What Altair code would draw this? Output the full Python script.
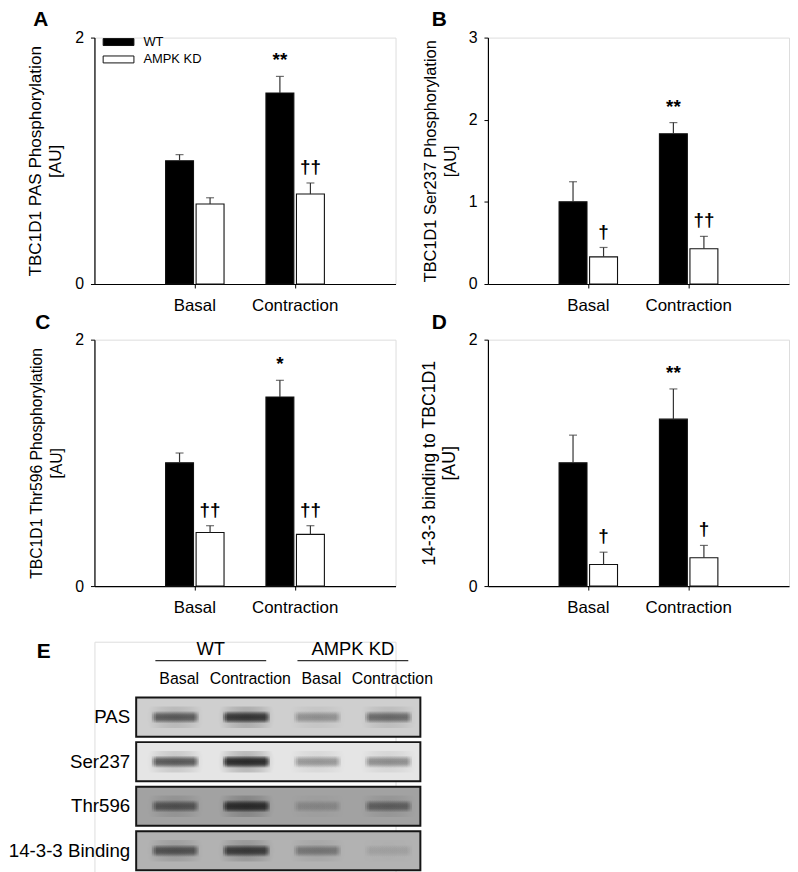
import altair as alt
import pandas as pd

FONT = "Liberation Sans"

conditions = ["Basal", "Contraction"]
genotypes = ["WT", "AMPK KD"]

# ---- Panel A: TBC1D1 PAS phosphorylation [AU]
a_wt = [1.00, 1.55]
a_wt_sem = [0.05, 0.135]
a_kd = [0.65, 0.73]
a_kd_sem = [0.05, 0.09]
a_wt_sig = ["", "**"]
a_kd_sig = ["", "††"]

# ---- Panel B: TBC1D1 Ser237 phosphorylation [AU]
b_wt = [1.00, 1.83]
b_wt_sem = [0.245, 0.135]
b_kd = [0.33, 0.43]
b_kd_sem = [0.115, 0.15]
b_wt_sig = ["", "**"]
b_kd_sig = ["†", "††"]

# ---- Panel C: TBC1D1 Thr596 phosphorylation [AU]
c_wt = [1.00, 1.535]
c_wt_sem = [0.08, 0.135]
c_kd = [0.435, 0.42]
c_kd_sem = [0.055, 0.07]
c_wt_sig = ["", "*"]
c_kd_sig = ["††", "††"]

# ---- Panel D: 14-3-3 binding to TBC1D1 [AU]
d_wt = [1.00, 1.355]
d_wt_sem = [0.225, 0.245]
d_kd = [0.175, 0.23]
d_kd_sem = [0.10, 0.10]
d_wt_sig = ["", "**"]
d_kd_sig = ["†", "†"]

# ---- Panel E: western blots
blot_rows = ["PAS", "Ser237", "Thr596", "14-3-3 Binding"]
blot_bg = ["#cfcfcf", "#e5e5e5", "#a2a2a2", "#b2b2b2"]
lane_labels = ["Basal", "Contraction", "Basal", "Contraction"]
lane_groups = ["WT", "WT", "AMPK KD", "AMPK KD"]
band_pas = [0.55, 0.85, 0.25, 0.45]
band_ser237 = [0.6, 1.0, 0.28, 0.32]
band_thr596 = [0.5, 0.9, 0.15, 0.4]
band_1433 = [0.55, 0.75, 0.3, 0.08]

PW, PH = 303, 248


def letter_layer(letter, xpx, ypx):
    return alt.Chart(pd.DataFrame({"t": [letter]})).mark_text(
        font=FONT, fontSize=21, fontWeight="bold", align="center",
        baseline="middle", color="black"
    ).encode(text="t:N", x=alt.value(xpx), y=alt.value(ypx))


def panel(wt, wt_sem, kd, kd_sem, wt_sig, kd_sig, ymax, title, tfs, letter, lx, ly, legend):
    df = pd.DataFrame({
        "cond": conditions + conditions,
        "group": [genotypes[0]] * 2 + [genotypes[1]] * 2,
        "mean": wt + kd,
        "sem": wt_sem + kd_sem,
        "sig": wt_sig + kd_sig,
    })
    base = alt.Chart(df).transform_calculate(top="datum.mean + datum.sem")
    x = alt.X("cond:N", sort=conditions, title=None,
              scale=alt.Scale(paddingInner=0.4175, paddingOuter=0.70875),
              axis=alt.Axis(labelAngle=0, labelFontSize=17, labelFont=FONT,
                            labelColor="black", labelPadding=10, tickSize=4,
                            tickColor="black", domainColor="black",
                            domainWidth=1.2, tickWidth=1))
    xo = alt.XOffset("group:N", sort=genotypes,
                     scale=alt.Scale(paddingInner=0.085, paddingOuter=0))
    ys = alt.Scale(domain=[0, ymax], nice=False)
    yaxis = alt.Axis(values=list(range(ymax + 1)), format="d",
                     title=title, titleFont=FONT, titleFontSize=tfs,
                     titleFontWeight="normal", titleColor="black",
                     titlePadding=10, titleLineHeight=20,
                     labelFontSize=16, labelFont=FONT,
                     labelColor="black", labelPadding=7, tickSize=4,
                     tickColor="black", domainColor="black",
                     domainWidth=1.2, grid=False)
    if legend:
        leg = alt.Legend(title=None, orient="none", legendX=15.75, legendY=-4,
                         symbolType="M-2,-0.45L2,-0.45L2,0.45L-2,0.45Z",
                         symbolSize=240, symbolStrokeColor="#111",
                         symbolStrokeWidth=1, labelFontSize=13, labelFont=FONT,
                         labelColor="black", labelOffset=16.5, rowPadding=1.5,
                         padding=0)
    else:
        leg = None
    bars = base.mark_bar(stroke="#111", strokeWidth=1.1).encode(
        x=x, xOffset=xo,
        y=alt.Y("mean:Q", scale=ys, axis=yaxis),
        fill=alt.Fill("group:N", sort=genotypes,
                      scale=alt.Scale(domain=genotypes, range=["#000000", "#ffffff"]),
                      legend=leg),
    )
    whisk = base.mark_rule(color="#333333", strokeWidth=1.2).encode(
        x=x, xOffset=xo, y=alt.Y("mean:Q", scale=ys, axis=yaxis), y2="top:Q")
    cap = base.mark_tick(color="#333333", thickness=1.2, size=8).encode(
        x=x, xOffset=xo, y=alt.Y("top:Q", scale=ys, axis=yaxis))
    sig = base.transform_filter("datum.sig != ''").mark_text(
        font=FONT, fontSize=19, fontWeight="bold", baseline="alphabetic",
        dy=-10, color="black"
    ).encode(x=x, xOffset=xo, y=alt.Y("top:Q", scale=ys, axis=yaxis), text="sig:N")
    return alt.layer(bars, whisk, cap, sig, letter_layer(letter, lx, ly)).properties(
        width=PW, height=PH)


pA = panel(a_wt, a_wt_sem, a_kd, a_kd_sem, a_wt_sig, a_kd_sig, 2,
           ["TBC1D1 PAS Phosphorylation", "[AU]"], 17.2, "A", -54, -18, True)
pB = panel(b_wt, b_wt_sem, b_kd, b_kd_sem, b_wt_sig, b_kd_sig, 3,
           ["TBC1D1 Ser237 Phosphorylation", "[AU]"], 16.5, "B", -49, -18, False)
pC = panel(c_wt, c_wt_sem, c_kd, c_kd_sem, c_wt_sig, c_kd_sig, 2,
           ["TBC1D1 Thr596 Phosphorylation", "[AU]"], 15.8, "C", -52, -17, False)
pD = panel(d_wt, d_wt_sem, d_kd, d_kd_sem, d_wt_sig, d_kd_sig, 2,
           ["14-3-3 binding to TBC1D1", "[AU]"], 17.8, "D", -49, -17, False)

# ---- Panel E layout in lane / row units
LANE_PX = 71.5
ROW_PX = 44.8
BOX_L, BOX_R = 0.45, 4.45
E_W, E_H = 303, 232
x_lo = BOX_L - 42 / LANE_PX
ex = alt.Scale(domain=[x_lo, x_lo + E_W / LANE_PX], nice=False, zero=False)
y_lo = -54 / ROW_PX
ey = alt.Scale(domain=[y_lo, y_lo + E_H / ROW_PX], nice=False, zero=False, reverse=True)

rows_df = pd.DataFrame({"row": blot_rows, "ri": list(range(len(blot_rows))), "bg": blot_bg})
bg = alt.Chart(rows_df).transform_calculate(
    y0="datum.ri + 0.05", y1="datum.ri + 0.93", xl=str(BOX_L), xr=str(BOX_R)
).mark_rect(stroke="#151515", strokeWidth=2).encode(
    x=alt.X("xl:Q", scale=ex, axis=None), x2="xr:Q",
    y=alt.Y("y0:Q", scale=ey, axis=None), y2="y1:Q",
    fill=alt.Fill("bg:N", scale=None))

rowlab = alt.Chart(rows_df).transform_calculate(
    yc="datum.ri + 0.49", xl=str(BOX_L)
).mark_text(align="right", baseline="middle", dx=-6, fontSize=18.8,
            font=FONT, color="black").encode(
    x=alt.X("xl:Q", scale=ex, axis=None), y=alt.Y("yc:Q", scale=ey, axis=None),
    text="row:N")

band_records = []
for ri, vals in enumerate([band_pas, band_ser237, band_thr596, band_1433]):
    for li, v in enumerate(vals):
        band_records.append({"ri": ri, "lane": li + 1, "intensity": v})
bands_df = pd.DataFrame(band_records)

core_grad = alt.LinearGradient(
    gradient="linear", x1=0, y1=0, x2=0, y2=1,
    stops=[alt.GradientStop(color="rgba(15,15,15,0)", offset=0),
           alt.GradientStop(color="rgba(15,15,15,0.85)", offset=0.32),
           alt.GradientStop(color="rgba(15,15,15,1)", offset=0.5),
           alt.GradientStop(color="rgba(15,15,15,0.85)", offset=0.68),
           alt.GradientStop(color="rgba(15,15,15,0)", offset=1)])
halo_grad = alt.RadialGradient(
    gradient="radial", x1=0.5, y1=0.5, r1=0, x2=0.5, y2=0.5, r2=0.5,
    stops=[alt.GradientStop(color="rgba(20,20,20,0.6)", offset=0),
           alt.GradientStop(color="rgba(20,20,20,0.3)", offset=0.6),
           alt.GradientStop(color="rgba(20,20,20,0)", offset=1)])


def band_layer(hw, vh, grad, k):
    return alt.Chart(bands_df).transform_calculate(
        bx0=f"datum.lane - {hw}", bx1=f"datum.lane + {hw}",
        by0=f"datum.ri + 0.49 - {vh}", by1=f"datum.ri + 0.49 + {vh}",
        op=f"datum.intensity * {k}"
    ).mark_rect(fill=grad).encode(
        x=alt.X("bx0:Q", scale=ex, axis=None), x2="bx1:Q",
        y=alt.Y("by0:Q", scale=ey, axis=None), y2="by1:Q",
        opacity=alt.Opacity("op:Q", scale=None))


halo = band_layer(0.40, 0.24, halo_grad, 0.45)
cores = [band_layer(hw, 0.14, core_grad, 0.45) for hw in (0.33, 0.30, 0.27)]

lanes_df = pd.DataFrame({"lane": [1, 2, 3, 4], "label": lane_labels, "grp": lane_groups})
lanelab = alt.Chart(lanes_df).transform_calculate(ly="-0.357").mark_text(
    fontSize=16, font=FONT, baseline="middle", dx=4, color="black").encode(
    x=alt.X("lane:Q", scale=ex, axis=None), y=alt.Y("ly:Q", scale=ey, axis=None),
    text="label:N")

hdr_base = alt.Chart(lanes_df).transform_aggregate(
    c="mean(lane)", groupby=["grp"]
).transform_calculate(h0="datum.c - 0.78", h1="datum.c + 0.78", hy="-0.78", ty="-1.03")
hdr_text = hdr_base.mark_text(fontSize=18.5, font=FONT, baseline="middle",
                              color="black").encode(
    x=alt.X("c:Q", scale=ex, axis=None), y=alt.Y("ty:Q", scale=ey, axis=None),
    text="grp:N")
hdr_rule = hdr_base.mark_rule(color="#333333", strokeWidth=1.2).encode(
    x=alt.X("h0:Q", scale=ex, axis=None), x2="h1:Q",
    y=alt.Y("hy:Q", scale=ey, axis=None))

pE = alt.layer(bg, halo, *cores, rowlab, lanelab, hdr_text, hdr_rule,
               letter_layer("E", -51, 10)).properties(width=E_W, height=E_H)

chart = alt.concat(pA, pB, pC, pD, pE, columns=2,
                   spacing={"row": 56, "column": 93}).properties(
    bounds="flush",
    padding={"left": 0, "top": -3, "right": 0, "bottom": 0},
).resolve_scale(
    x="independent", y="independent", fill="independent", opacity="independent"
).resolve_legend(fill="independent").configure_view(
    strokeWidth=0, stroke="transparent"
).configure(font=FONT, background="white")

chart.save("out.html", embed_options={"renderer": "svg", "actions": False})
